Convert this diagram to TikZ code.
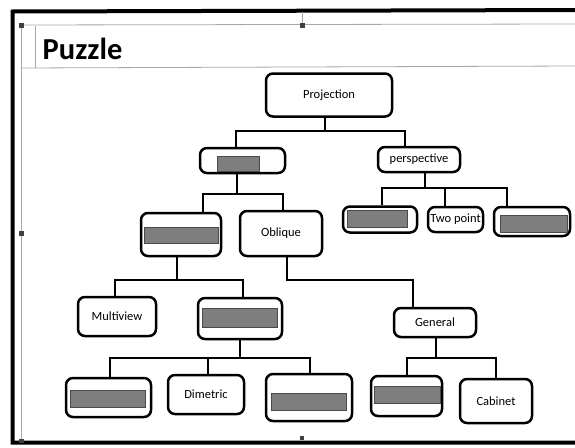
\documentclass[tikz,border=0pt]{standalone}
\usepackage{fontspec}
\setmainfont{Carlito}
\usetikzlibrary{calc}
\definecolor{barfill}{HTML}{7E7E7E}
\definecolor{barline}{HTML}{4A4A4A}
\definecolor{selline}{HTML}{A8A8A8}
\begin{document}
\begin{tikzpicture}[x=1pt,y=-1pt,
  box/.style={draw, line width=2.5pt, rounded corners=7pt, inner sep=0pt,
              font=\fontsize{12.5}{14}\selectfont},
  link/.style={line width=2.5pt},
  bar/.style={fill=barfill, draw=barline, line width=0.9pt},
  sel/.style={draw=selline, line width=0.8pt},
  handle/.style={fill=black!75}]
\useasboundingbox (0,0) rectangle (575,447);
% frame of the photographed slide
\draw[line width=4pt] (580,10) -- (12.5,11.5) -- (12.5,442.5) -- (580,442.5);
% selection frame and title box
\draw[sel] (21.5,442) -- (21.5,25) -- (575,24);
\draw[sel] (302,12) -- (302,25);
\draw[sel] (35.5,26) -- (35.5,68);
\draw[sel] (21.5,68) -- (575,66);
\fill[handle] (19,22.5) rectangle (24,27.5);
\fill[handle] (299.5,22.5) rectangle (304.5,27.5);
\fill[handle] (19,230.5) rectangle (24,235.5);
\fill[handle] (19,439) rectangle (24,443);
\fill[handle] (300,436) rectangle (304,440);
\node[anchor=base west, inner sep=0pt, font=\fontsize{30.5}{34}\selectfont\bfseries] (title) at (42.5,59) {Puzzle};
% nodes
\node[box, minimum width=126pt, minimum height=43pt] (proj) at (329,95) {Projection};
\node[box, minimum width=85pt, minimum height=25pt] (b2) at (242.5,160.5) {};
\node[box, minimum width=82pt, minimum height=25pt] (persp) at (419,159.5) {perspective};
\node[box, minimum width=80pt, minimum height=43pt] (b3l) at (181,234.5) {};
\node[box, minimum width=82pt, minimum height=45pt] (obl) at (281,233.5) {Oblique};
\node[box, minimum width=74pt, minimum height=26pt] (pc1) at (380,219.5) {};
\node[box, minimum width=55pt, minimum height=25pt] (two) at (455.5,219.5) {Two point};
\node[box, minimum width=76pt, minimum height=29pt] (pc3) at (532,221.5) {};
\node[box, minimum width=78pt, minimum height=39pt] (multi) at (117,316.5) {Multiview};
\node[box, minimum width=84pt, minimum height=41pt] (b4) at (240,318.5) {};
\node[box, minimum width=82pt, minimum height=29pt] (gen) at (435,322.5) {General};
\node[box, minimum width=85pt, minimum height=39pt] (b5a) at (108.5,397.5) {};
\node[box, minimum width=76pt, minimum height=39pt] (dim) at (206,394.5) {Dimetric};
\node[box, minimum width=86pt, minimum height=47pt] (b5c) at (309,397.5) {};
\node[box, minimum width=71pt, minimum height=40pt] (b6) at (406.5,396) {};
\node[box, minimum width=72pt, minimum height=44pt] (cab) at (496,401) {Cabinet};
% grey cover bars
\draw[bar] (217,156) rectangle (259,171);
\draw[bar] (144,227) rectangle (218,243);
\draw[bar] (347,210) rectangle (407,227);
\draw[bar] (500,215) rectangle (567,232);
\draw[bar] (202,308) rectangle (277,327);
\draw[bar] (70,390) rectangle (145,407);
\draw[bar] (271,393) rectangle (346,410);
\draw[bar] (374,386) rectangle (440,403);
% connectors
\coordinate (j1) at (325,131);
\draw[link] (proj.south -| j1) -- (j1);
\draw[link] ($(b2.north)+(-6.5,0)$) |- (j1) -| ($(persp.north)+(-14,0)$);
\coordinate (j2) at (237,194);
\draw[link] (b2.south -| j2) -- (j2);
\draw[link] ($(b3l.north)+(22,0)$) |- (j2) -| ($(obl.north)+(2,0)$);
\coordinate (j3) at (425,188);
\draw[link] (persp.south -| j3) -- (j3);
\draw[link] ($(pc1.north)+(2,0)$) |- (j3) -| ($(pc3.north)+(-25,0)$);
\draw[link] ($(two.north)+(-10.5,0)$) coordinate (t1) -- (t1 |- j3);
\coordinate (j4) at (177,280);
\draw[link] (b3l.south -| j4) -- (j4);
\draw[link] ($(multi.north)+(-2,0)$) |- (j4) -| ($(b4.north)+(3,0)$);
\coordinate (j5) at (240,358);
\draw[link] (b4.south -| j5) -- (j5);
\draw[link] ($(b5a.north)+(1.5,0)$) |- (j5) -| ($(b5c.north)+(1,0)$);
\draw[link] ($(dim.north)+(2,0)$) coordinate (t2) -- (t2 |- j5);
\draw[link] ($(obl.south)+(6,0)$) coordinate (o1) -- (o1 |- j4) -| ($(gen.north)+(-22,0)$);
\coordinate (j7) at (436,358);
\draw[link] (gen.south -| j7) -- (j7);
\draw[link] ($(b6.north)+(0.5,0)$) |- (j7) -| (cab.north);
\end{tikzpicture}
\end{document}
